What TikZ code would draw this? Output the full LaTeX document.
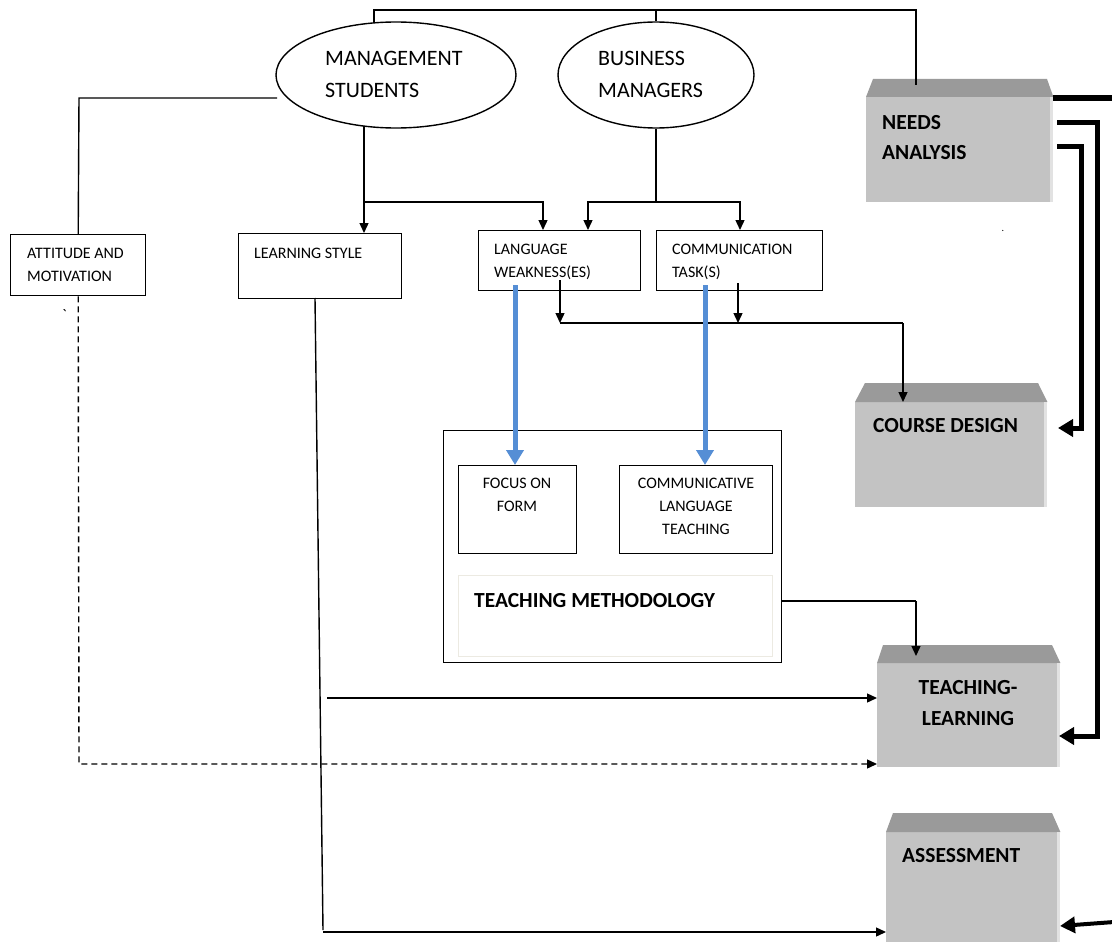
\documentclass[tikz,border=0pt]{standalone}
\usepackage{fontspec}
\setmainfont{Carlito}
\usetikzlibrary{arrows.meta,shapes.geometric}
\definecolor{boxgray}{HTML}{C3C3C3}
\definecolor{bevelgray}{HTML}{9A9A9A}
\definecolor{edgegray}{HTML}{E2E2E2}
\definecolor{bluearr}{HTML}{558ED5}
\definecolor{innerborder}{HTML}{ECEAE2}
\begin{document}
\begin{tikzpicture}[x=1pt,y=-1pt,
  thinline/.style={line width=1.4pt},
  arr/.style={thinline,-{Triangle[length=10pt,width=9pt]}},
  blarr/.style={line width=5pt,bluearr,-{Triangle[length=15pt,width=17pt]}},
  thickarr/.style={line width=5pt,-{Triangle[length=15pt,width=17pt]}},
  dasharr/.style={thinline,dash pattern=on 6pt off 4pt,-{Triangle[length=10pt,width=9pt]}},
  plainbox/.style={draw,thinline,inner sep=0pt,anchor=north west},
  gbody/.style={fill=boxgray,inner sep=0pt,anchor=north west},
  oval/.style={draw,thinline,ellipse,inner sep=0pt},
  small/.style={anchor=base west,inner sep=0pt,font=\fontsize{16}{19}\selectfont},
  smallc/.style={anchor=base,inner sep=0pt,font=\fontsize{16}{19}\selectfont},
  big/.style={anchor=base west,inner sep=0pt,font=\fontsize{22}{26}\selectfont},
  bold/.style={anchor=base west,inner sep=0pt,font=\fontsize{21.5}{25}\selectfont\bfseries},
  boldc/.style={anchor=base,inner sep=0pt,font=\fontsize{21.5}{25}\selectfont\bfseries}]
\useasboundingbox (0,0) rectangle (1112,942);
\fill[white] (0,0) rectangle (1112,942);

% ---------- grey bevelled boxes ----------
\node[gbody,minimum width=187,minimum height=105] (na) at (866,97) {};
\fill[bevelgray] (na.north west) -- (873,79) -- (1047,79) -- (na.north east) -- cycle;
\fill[edgegray] ([xshift=-3]na.north east) rectangle (na.south east);

\node[gbody,minimum width=192,minimum height=105] (cd) at (855,402) {};
\fill[bevelgray] (cd.north west) -- (865,383) -- (1038,383) -- (cd.north east) -- cycle;
\fill[edgegray] ([xshift=-3]cd.north east) rectangle (cd.south east);

\node[gbody,minimum width=183,minimum height=104] (tl) at (877,663) {};
\fill[bevelgray] (tl.north west) -- (883,645) -- (1052,645) -- (tl.north east) -- cycle;
\fill[edgegray] ([xshift=-3]tl.north east) rectangle (tl.south east);

\node[gbody,minimum width=174,minimum height=125] (as) at (886,832) {};
\fill[bevelgray] (as.north west) -- (893,813) -- (1052,813) -- (as.north east) -- cycle;
\fill[edgegray] ([xshift=-3]as.north east) rectangle (as.south east);

\node[bold] (natxt1) at (882,129) {NEEDS};
\node[bold] (natxt2) at (882,159) {ANALYSIS};
\node[bold] (cdtxt) at (873,432) {COURSE DESIGN};
\node[boldc] (tltxt1) at (968,694) {TEACHING-};
\node[boldc] (tltxt2) at (968,725) {LEARNING};
\node[bold] (astxt) at (902,862) {ASSESSMENT};

% ---------- ellipses ----------
\node[oval,minimum width=240,minimum height=106] (ms) at (396,75) {};
\node[oval,minimum width=196,minimum height=106] (bm) at (656,75) {};
\node[big] (mstxt1) at (325,66) {MANAGEMENT};
\node[big] (mstxt2) at (325,97) {STUDENTS};
\node[big] (bmtxt1) at (598,66) {BUSINESS};
\node[big] (bmtxt2) at (598,97) {MANAGERS};

% ---------- plain boxes ----------
\node[plainbox,minimum width=135,minimum height=61] (att) at (10,234) {};
\node[small] (atttxt1) at (27,258) {ATTITUDE AND};
\node[small] (atttxt2) at (27,281) {MOTIVATION};

\node[plainbox,minimum width=163,minimum height=65] (ls) at (238,233) {};
\node[small] (lstxt) at (254,258) {LEARNING STYLE};

\node[plainbox,minimum width=162,minimum height=60] (lw) at (478,230) {};
\node[small] (lwtxt1) at (494,254) {LANGUAGE};
\node[small] (lwtxt2) at (494,277) {WEAKNESS(ES)};

\node[plainbox,minimum width=166,minimum height=60] (ct) at (656,230) {};
\node[small] (cttxt1) at (672,254) {COMMUNICATION};
\node[small] (cttxt2) at (672,277) {TASK(S)};

\node[plainbox,minimum width=338,minimum height=232] (tm) at (443,430) {};
\node[plainbox,minimum width=118,minimum height=88] (ff) at (458,465) {};
\node[smallc] (fftxt1) at (517,488) {FOCUS ON};
\node[smallc] (fftxt2) at (517,511) {FORM};
\node[plainbox,minimum width=153,minimum height=88] (clt) at (619,465) {};
\node[smallc] (clttxt1) at (696,488) {COMMUNICATIVE};
\node[smallc] (clttxt2) at (696,511) {LANGUAGE};
\node[smallc] (clttxt3) at (696,534) {TEACHING};
\node[draw=innerborder,line width=1.3pt,inner sep=0pt,anchor=north west,minimum width=314,minimum height=81] (tmin) at (458,575) {};
\node[bold] (tmtxt) at (474,607) {TEACHING METHODOLOGY};

% stray marks
\node[small] (tick) at (62,320) {\textasciigrave};
\node[inner sep=0pt,anchor=base,font=\fontsize{10}{12}\selectfont] (dot) at (1003,231) {.};

% ---------- connectors ----------
\coordinate (t1) at (374,10);
\coordinate (t2) at (656,10);
\coordinate (t3) at (916,10);
\draw[thinline] (374,23) -- (t1) -- (t3) -- (916,85);
\draw[thinline] (t2) -- (bm.north);

\coordinate (l1) at (79,98);
\draw[thinline] (277,98) -- (l1) -- (att.north);

\coordinate (m1) at (364,202);
\coordinate (m2) at (543,202);
\draw[thinline] (364,126) -- (m1);
\draw[arr] (m1) -- (m1 |- ls.north);
\draw[arr] (m1) -- (m2) -- (m2 |- lw.north);

\coordinate (b1) at (656,202);
\coordinate (b2) at (588,202);
\coordinate (b3) at (740,202);
\draw[thinline] (bm.south) -- (b1);
\draw[arr] (b1) -- (b2) -- (b2 |- lw.north);
\draw[arr] (b1) -- (b3) -- (b3 |- ct.north);

\coordinate (c1) at (560,323);
\coordinate (c2) at (738,323);
\coordinate (c3) at (903,323);
\draw[arr] (560,280) -- (c1);
\draw[arr] (738,283) -- (c2);
\draw[thinline] (c1) -- (c3);
\draw[arr] (c3) -- (c3 |- cd.north);

\coordinate (bl1) at (515,285);
\coordinate (bl2) at (705,285);
\draw[blarr] (bl1) -- (bl1 |- ff.north);
\draw[blarr] (bl2) -- (bl2 |- clt.north);

\coordinate (tmr) at (781,601);
\coordinate (tmc) at (916,601);
\draw[thinline] (tmr) -- (tmc);
\draw[arr] (tmc) -- (916,656);

% learning style path
\coordinate (lsb) at (315,298);
\coordinate (lse) at (323,930);
\coordinate (h1) at (327,698);
\coordinate (h2) at (323,932);
\coordinate (h3) at (79,764);
\draw[thinline] (lsb) -- (lse);
\draw[arr] (h1) -- (h1 -| tl.west);
\draw[arr] (h2) -- (h2 -| as.west);

% attitude dashed path
\draw[dasharr] (att.south) -- (h3) -- (h3 -| tl.west);

% thick lines on the right
\draw[line width=6pt] (1053,98) -- (1114,98);
\coordinate (r2a) at (1097,122);
\coordinate (r2b) at (1097,736);
\draw[thickarr] (1057,122) -- (r2a) -- (r2b) -- (1059,736);
\coordinate (r3a) at (1081,146);
\coordinate (r3b) at (1081,428);
\draw[thickarr] (1057,146) -- (r3a) -- (r3b) -- (1058,428);
\draw[line width=4pt,-{Triangle[length=15pt,width=16pt]}] (1114,922) -- (1060,926);
\end{tikzpicture}
\end{document}
